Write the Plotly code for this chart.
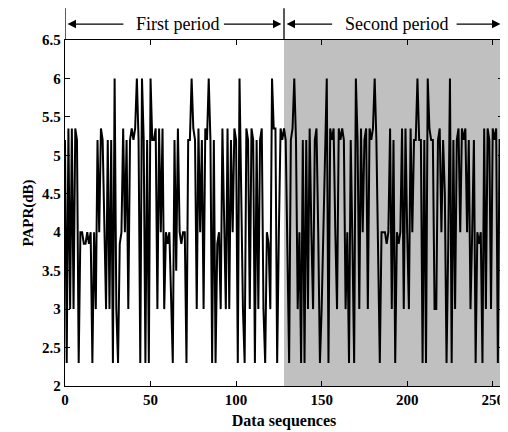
import plotly.graph_objects as go

# PAPR of each data sequence (dB)
papr_a = [5.2, 2.3, 5.35, 3.0, 5.35, 3.0, 5.35, 5.2, 2.3, 4.0, 4.0, 3.85, 3.85, 4.0, 3.85, 4.0, 2.3, 4.0, 3.0, 5.2, 4.0, 5.35]
papr_b = [5.2, 3.85, 3.0, 5.2, 3.0, 5.2, 2.3, 6.0, 3.0, 2.3, 3.85, 4.0, 5.35, 4.0, 5.2, 3.0, 5.2, 5.35, 5.2, 5.35, 6.0, 5.2, 2.3, 6.0, 5.2]
papr_c = [2.3, 5.2, 2.3, 6.0, 5.2, 5.2, 5.35, 3.0, 5.35, 4.0, 5.35, 3.0, 4.0, 3.85, 4.0, 3.0, 2.3, 5.2, 3.5, 5.35, 4.0, 3.85, 4.0]
papr_d = [4.0, 2.3, 5.2, 5.2, 6.0, 5.35, 5.2, 3.0, 5.35, 4.0, 5.2, 3.0, 5.35, 5.2, 6.0, 5.2, 2.3, 5.2, 2.3, 3.85, 4.0, 3.0, 5.35]
papr_e = [4.0, 3.0, 5.35, 3.0, 5.2, 4.0, 5.35, 5.2, 2.3, 6.0, 4.5, 3.0, 2.3, 5.35, 5.2, 3.0, 5.35, 5.2, 2.3, 5.2, 3.0, 5.2, 5.35]
papr_f = [3.0, 2.3, 4.0, 3.85, 3.0, 6.0, 5.35, 5.35, 2.3, 4.0, 5.35, 5.2, 5.35, 5.2, 4.0, 2.3, 5.2, 5.35, 6.0, 5.2, 3.0, 4.0, 2.3, 5.2]
papr_g = [2.3, 5.2, 3.0, 5.35, 4.0, 3.0, 5.2, 5.35, 4.0, 2.3, 3.0, 4.0, 5.2, 6.0, 2.3, 5.35, 5.2, 5.35, 4.0, 3.0, 5.35, 5.2, 5.35]
papr_h = [5.2, 3.0, 4.0, 2.3, 5.2, 3.85, 2.3, 6.0, 5.2, 3.0, 5.35, 4.0, 5.2, 5.35, 3.0, 5.35, 5.2, 5.35, 6.0, 5.2, 4.0, 2.3, 4.0, 4.0, 4.0]
papr_i = [3.85, 4.0, 5.35, 3.0, 5.2, 2.3, 4.0, 3.85, 4.0, 5.35, 3.0, 5.35, 4.0, 3.0, 5.35, 4.0, 5.2, 5.2, 6.0, 5.2, 5.2, 2.3, 5.2]
papr_j = [2.3, 6.0, 5.35, 5.2, 5.2, 3.0, 3.0, 5.2, 5.35, 4.0, 5.2, 4.5, 2.3, 3.85, 6.0, 2.3, 5.2, 3.0, 5.2, 5.35, 4.0, 5.35, 5.2]
papr_k = [5.35, 4.0, 5.2, 3.0, 4.0, 5.2, 2.3, 4.0, 3.85, 4.0, 2.3, 5.35, 3.0, 5.35, 5.2, 3.0, 5.35, 5.2, 5.35, 2.3, 5.2, 5.2]

papr = papr_a + papr_b + papr_c + papr_d + papr_e + papr_f + papr_g + papr_h + papr_i + papr_j + papr_k
seq = list(range(len(papr)))

# Period boundaries and labels
period_edges = [0, 128, 256]
period_names = ['First period', 'Second period']
x_ticks = [0, 50, 100, 150, 200, 250]
y_ticks = [2, 2.5, 3, 3.5, 4, 4.5, 5, 5.5, 6, 6.5]

serif = 'Liberation Serif'

fig = go.Figure()

fig.add_trace(go.Scatter(x=seq,
                         y=papr,
                         mode='lines',
                         line=dict(color='black', width=2),
                         showlegend=False))

# Grey background for the second period
fig.add_shape(type='rect', xref='x', yref='y',
              x0=period_edges[1], x1=period_edges[2], y0=2, y1=6.5,
              fillcolor='#c0c0c0', line_width=0, layer='below')

# Vertical bars above the axes
for e in period_edges:
    fig.add_shape(type='line', xref='x', yref='paper',
                  x0=e, x1=e, y0=1.0, y1=1.092,
                  line=dict(color='black', width=1.3))

# Double arrows with period names
arrow_y = 1.046
gaps = [(35, 92), (157, 228)]
for i, name in enumerate(period_names):
    lo, hi = period_edges[i], period_edges[i + 1]
    fig.add_annotation(x=(lo + hi) / 2 + 2, y=arrow_y, xref='x', yref='paper',
                       text=name, showarrow=False, yanchor='middle',
                       font=dict(family=serif, size=18, color='black'))
    for head, tail in [(lo, gaps[i][0]), (hi, gaps[i][1])]:
        fig.add_annotation(x=head + (1.5 if head == lo else -1.5), y=arrow_y,
                           xref='x', yref='paper',
                           ax=tail, ay=0, axref='x', ayref='pixel',
                           text='', showarrow=True,
                           arrowhead=2, arrowsize=1.3, arrowwidth=1.3,
                           arrowcolor='black')

axis_common = dict(showline=True,
                   linewidth=1.3,
                   linecolor='black',
                   mirror='ticks',
                   ticks='inside',
                   ticklen=5,
                   tickwidth=1.3,
                   tickcolor='black',
                   showgrid=False,
                   zeroline=False,
                   automargin=False,
                   tickfont=dict(family=serif, size=15, color='black', weight='bold'))

# page body adds an 8px offset, so the figure is 8px smaller than the window
fig.update_layout(width=500, height=424,
                  margin=dict(l=57, r=5, t=32, b=46),
                  plot_bgcolor='white',
                  paper_bgcolor='white',
                  xaxis=dict(range=[0, 256], tickvals=x_ticks,
                             title=dict(text='Data sequences', standoff=7,
                                        font=dict(family=serif, size=16, color='black', weight='bold')),
                             **axis_common),
                  yaxis=dict(range=[2, 6.5], tickvals=y_ticks,
                             title=dict(text='PAPR(dB)', standoff=4,
                                        font=dict(family=serif, size=15, color='black', weight='bold')),
                             **axis_common))

fig.write_html('out.html')
